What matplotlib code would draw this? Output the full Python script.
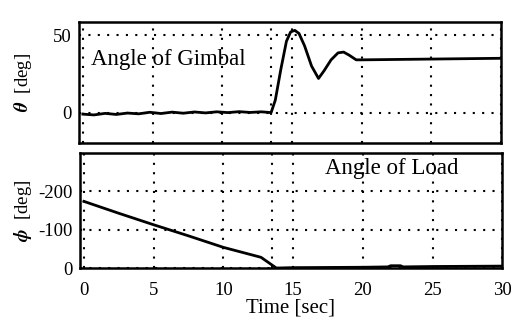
import numpy as np
import matplotlib.pyplot as plt

plt.rcParams['font.family'] = ['Liberation Serif', 'DejaVu Serif']
plt.rcParams['mathtext.fontset'] = 'stix'

# gimbal angle
t_gim = [0, 0.8, 1.6, 2.4, 3.2, 4.0, 4.8, 5.6, 6.4, 7.2, 8.0, 8.8, 9.6, 10.4, 11.2, 12.0, 12.8, 13.5,
         13.8, 14.2, 14.6, 14.9, 15.2, 15.5, 15.9, 16.4, 16.9, 17.3, 17.8, 18.3, 18.7, 19.1, 19.6, 20, 25, 30]
theta = [-1, -1.5, -0.5, -1.2, -0.3, -0.8, 0.2, -0.6, 0.3, -0.4, 0.4, -0.2, 0.5, 0, 0.6, 0.1, 0.5, 0,
         8, 28, 46, 52, 53, 51, 43, 30, 22, 27, 34, 38.5, 39, 37, 34, 34, 34.5, 35]

# load angle
t_load = [0, 2.5, 5, 7.5, 10, 12.7, 13.8, 15, 20, 21.8, 22.0, 22.7, 22.9, 25, 30]
phi = [174, 143, 113, 84, 54, 28, 0, 1, 2, 3, 6, 6, 3, 4, 5]

t_mark = 13.5  # dotted marker where the gimbal starts to move

xticks = [0, 5, 10, 15, 20, 25, 30]
top_yticks = [0, 50]
bot_yticks = [0, 100, 200]
bot_ylabels = ['0', '-100', '-200']

fig = plt.figure(figsize=(5.21, 3.21), dpi=100)
ax1 = fig.add_axes([0.151, 0.555, 0.811, 0.377])
ax2 = fig.add_axes([0.153, 0.165, 0.811, 0.358])

grid_kw = dict(color='black', linestyle=(0, (1, 3.5)), linewidth=1.5)

for ax in (ax1, ax2):
    ax.set_xlim(-0.3, 30)
    ax.set_xticks(xticks)
    ax.grid(True, **grid_kw)
    ax.axvline(t_mark, **grid_kw)
    ax.tick_params(length=0, labelsize=13.5, pad=5)
    ax.tick_params(axis='x', pad=10)
    for s in ax.spines.values():
        s.set_linewidth(1.8)

ax1.plot(t_gim, theta, color='black', lw=2)
ax1.set_ylim(-19.5, 58.5)
ax1.set_yticks(top_yticks)
ax1.set_xticklabels([])
ax1.set_ylabel(r'$\boldsymbol{\theta}$  [deg]', fontsize=13.5, labelpad=14)
ax1.text(0.028, 0.69, 'Angle of Gimbal', transform=ax1.transAxes, fontsize=16.5, va='center')

ax2.plot(t_load, phi, color='black', lw=2)
ax2.set_ylim(0, 300)
ax2.set_yticks(bot_yticks)
ax2.set_yticklabels(bot_ylabels)
ax2.set_ylabel(r'$\boldsymbol{\phi}$  [deg]', fontsize=13.5, labelpad=3)
ax2.set_xlabel('Time [sec]', fontsize=15, labelpad=0)
ax2.text(0.58, 0.87, 'Angle of Load', transform=ax2.transAxes, fontsize=16.5, va='center')

fig.savefig('out.png', dpi=100, facecolor='white')
